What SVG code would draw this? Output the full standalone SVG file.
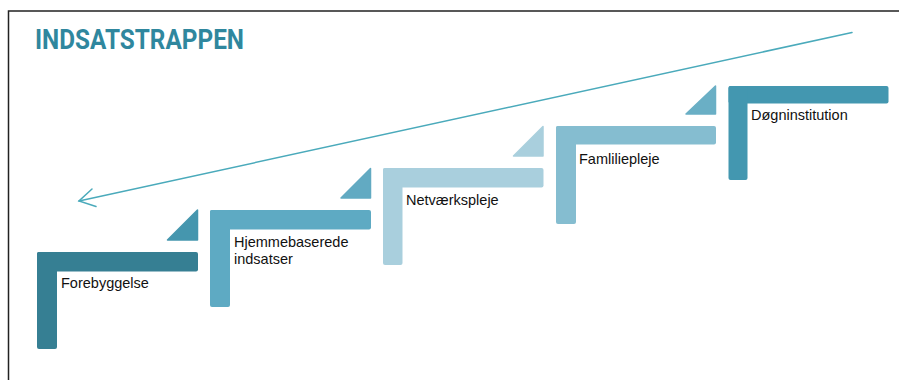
<svg xmlns="http://www.w3.org/2000/svg" width="899" height="380" viewBox="0 0 899 380">
<style>
.lbl{font-family:"Liberation Sans",Arial,sans-serif;font-size:14.5px;fill:#111}
.title{font-family:Roboto,"Liberation Sans",sans-serif;font-weight:700;font-size:27px;fill:#2f879e}
.arrow{stroke:#4aaabb;stroke-width:1.5;fill:none;stroke-linecap:round}
</style>
<rect width="899" height="380" fill="#ffffff"/>
<path d="M8.5,380 V11 H899" fill="none" stroke="#222" stroke-width="1.5"/>
<text class="title" x="35" y="49" textLength="209" lengthAdjust="spacingAndGlyphs">INDSATSTRAPPEN</text>
<g id="connectors">
<line class="arrow" x1="852" y1="32.5" x2="79" y2="201"/>
<polyline class="arrow" points="92,189 79,201 96,206.5"/>
</g>
<g id="step1">
<rect x="37" y="252" width="161" height="19.5" rx="2" fill="#367f93"/>
<rect x="37" y="252" width="20" height="97" rx="2" fill="#367f93"/>
<text class="lbl" x="61" y="288">Forebyggelse</text>
</g>
<g id="tri1"><path d="M197.5,210 V240 H167.5 Z" fill="#4596ae" stroke="#4596ae" stroke-width="1.5" stroke-linejoin="round"/></g>
<g id="step2">
<rect x="210" y="210" width="161" height="19.5" rx="2" fill="#5eaac3"/>
<rect x="210" y="210" width="20" height="97" rx="2" fill="#5eaac3"/>
<text class="lbl" x="234" y="246.5">Hjemmebaserede</text>
<text class="lbl" x="234" y="264">indsatser</text>
</g>
<g id="tri2"><path d="M370.5,168.5 V198 H341 Z" fill="#62aac2" stroke="#62aac2" stroke-width="1.5" stroke-linejoin="round"/></g>
<g id="step3">
<rect x="383" y="168" width="160.5" height="19.5" rx="2" fill="#a9cfdd"/>
<rect x="383" y="168" width="19.5" height="97" rx="2" fill="#a9cfdd"/>
<text class="lbl" x="406" y="205">Netværkspleje</text>
</g>
<g id="tri3"><path d="M543,126.5 V156 H513.5 Z" fill="#a9cfdd" stroke="#a9cfdd" stroke-width="1.5" stroke-linejoin="round"/></g>
<g id="step4">
<rect x="556" y="126" width="160" height="18.5" rx="2" fill="#85bdd0"/>
<rect x="556" y="126" width="20" height="98" rx="2" fill="#85bdd0"/>
<text class="lbl" x="579" y="164">Famliliepleje</text>
</g>
<g id="tri4"><path d="M715.5,86 V114 H686 Z" fill="#6aafc5" stroke="#6aafc5" stroke-width="1.5" stroke-linejoin="round"/></g>
<g id="step5">
<rect x="728.5" y="86" width="160" height="17.5" rx="2" fill="#4397b0"/>
<rect x="728.5" y="86" width="19" height="94" rx="2" fill="#4397b0"/>
<text class="lbl" x="751" y="120">Døgninstitution</text>
</g>
</svg>
